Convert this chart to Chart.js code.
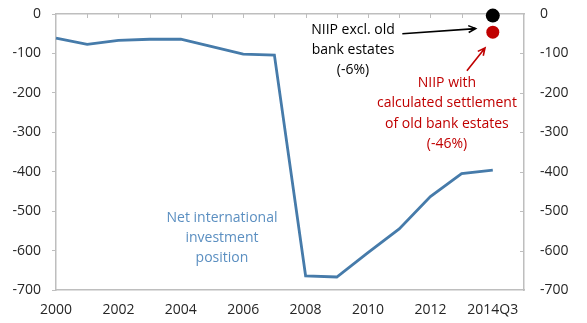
<!DOCTYPE html>
<html lang="en">
<head>
  <meta charset="UTF-8" />
  <title>Net international investment position</title>
  <script src="https://cdn.jsdelivr.net/npm/chart.js"></script>
  <style>
    body { margin: 0; background: #fff; }
    #wrap { width: 587px; height: 323px; position: relative; }
  </style>
</head>
<body>
  <div id="wrap"><canvas id="niipChart"></canvas></div>

  <script>
    // data
    const years = ['2000', '2001', '2002', '2003', '2004', '2005', '2006', '2007',
                   '2008', '2009', '2010', '2011', '2012', '2013', '2014Q3'];
    const niip = [-61, -77, -67, -64, -64, -83, -102, -104, -664, -667, -605, -545, -463, -405, -396];
    const exclOldBanks = [{ x: '2014Q3', y: -4 }];
    const withSettlement = [{ x: '2014Q3', y: -46 }];
    const yTicks = [0, -100, -200, -300, -400, -500, -600, -700];

    const gray = '#BEBEBE';
    const tickFont = { family: 'Open Sans', size: 14 };
    const tickColor = '#262626';

    // one empty slot after the last period, like the original axis
    const labels = years.concat(['']);

    // fixed axis sizes; drop the label overhang padding of the y axes
    const fitY = w => s => { s.width = w; s.paddingTop = 0; s.paddingBottom = 0; };

    // small tick marks pointing into the plot (top axis and right axis)
    const innerTicks = {
      id: 'innerTicks',
      beforeDatasetsDraw(chart) {
        const ctx = chart.ctx;
        const xs = chart.scales.x, ys = chart.scales.y;
        const top = chart.chartArea.top, right = chart.chartArea.right;
        ctx.save();
        ctx.strokeStyle = gray;
        ctx.lineWidth = 1;
        for (let i = 1; i < labels.length - 1; i++) {
          const x = Math.round(xs.getPixelForValue(i)) + 0.5;
          ctx.beginPath();
          ctx.moveTo(x, top);
          ctx.lineTo(x, top + 4);
          ctx.stroke();
        }
        yTicks.slice(1, -1).forEach(v => {
          const y = Math.round(ys.getPixelForValue(v)) + 0.5;
          ctx.beginPath();
          ctx.moveTo(right, y);
          ctx.lineTo(right - 4, y);
          ctx.stroke();
        });
        ctx.restore();
      }
    };

    // text and arrows, anchored on the scales
    const notes = {
      id: 'notes',
      afterDatasetsDraw(chart) {
        const ctx = chart.ctx;
        const xs = chart.scales.x, ys = chart.scales.y;
        const px = v => xs.getPixelForValue(v);
        const py = v => ys.getPixelForValue(v);

        function text(lines, xi, yv, color) {
          ctx.save();
          ctx.font = '14px "Open Sans"';
          ctx.fillStyle = color;
          ctx.textAlign = 'center';
          ctx.textBaseline = 'middle';
          lines.forEach((l, i) => ctx.fillText(l, px(xi), py(yv) + i * 20.3));
          ctx.restore();
        }

        function arrow(x1, y1, x2, y2, color) {
          const ax = px(x1), ay = py(y1), bx = px(x2), by = py(y2);
          const a = Math.atan2(by - ay, bx - ax);
          ctx.save();
          ctx.strokeStyle = color;
          ctx.lineWidth = 1.6;
          ctx.beginPath();
          ctx.moveTo(ax, ay);
          ctx.lineTo(bx, by);
          ctx.moveTo(bx - 8 * Math.cos(a - 0.45), by - 8 * Math.sin(a - 0.45));
          ctx.lineTo(bx, by);
          ctx.lineTo(bx - 8 * Math.cos(a + 0.45), by - 8 * Math.sin(a + 0.45));
          ctx.stroke();
          ctx.restore();
        }

        text(['NIIP excl. old', 'bank estates', '(-6%)'], 9.52, -40, '#000');
        arrow(11.1, -50, 13.45, -37, '#000');

        text(['NIIP with', 'calculated settlement', 'of old bank estates', '(-46%)'], 12.53, -175, '#C00000');
        arrow(13.17, -144, 13.75, -86, '#C00000');

        text(['Net international', 'investment', 'position'], 5.32, -517, '#5B8FC1');
      }
    };

    const ctx = document.getElementById('niipChart').getContext('2d');
    new Chart(ctx, {
      type: 'line',
      data: {
        labels: labels,
        datasets: [
          {
            data: niip,
            borderColor: '#467BAA',
            borderWidth: 2.8,
            pointRadius: 0,
            tension: 0
          },
          {
            data: exclOldBanks,
            showLine: false,
            clip: false,
            pointRadius: 7,
            pointBackgroundColor: '#000',
            pointBorderWidth: 0
          },
          {
            data: withSettlement,
            showLine: false,
            clip: false,
            pointRadius: 6.5,
            pointBackgroundColor: '#C00000',
            pointBorderWidth: 0
          }
        ]
      },
      options: {
        responsive: true,
        maintainAspectRatio: false,
        animation: false,
        layout: { padding: 0, autoPadding: false },
        plugins: {
          legend: { display: false },
          tooltip: { enabled: false }
        },
        scales: {
          x: {
            position: 'bottom',
            offset: false,
            grid: { drawOnChartArea: false, drawTicks: false },
            border: { color: gray, width: 1.5 },
            ticks: {
              autoSkip: false,
              maxRotation: 0,
              padding: 12,
              color: tickColor,
              font: tickFont,
              callback: (v, i) => (i % 2 === 0 ? labels[i] : '')
            },
            afterFit: s => { s.height = 33; }
          },
          xTop: {
            position: 'top',
            grid: { drawOnChartArea: false, drawTicks: false },
            border: { color: gray, width: 1.5 },
            ticks: { display: false },
            afterFit: s => { s.height = 14; }
          },
          y: {
            position: 'left',
            min: -700,
            max: 0,
            grid: { drawOnChartArea: false, tickLength: 4, color: gray },
            border: { color: gray, width: 1.5 },
            ticks: { stepSize: 100, padding: 11, color: tickColor, font: tickFont },
            afterFit: fitY(56)
          },
          y2: {
            position: 'right',
            min: -700,
            max: 0,
            grid: { drawOnChartArea: false, drawTicks: false },
            border: { color: gray, width: 1.5 },
            ticks: { stepSize: 100, padding: 16, color: tickColor, font: tickFont },
            afterFit: fitY(63)
          }
        }
      },
      plugins: [innerTicks, notes]
    });
  </script>
</body>
</html>
